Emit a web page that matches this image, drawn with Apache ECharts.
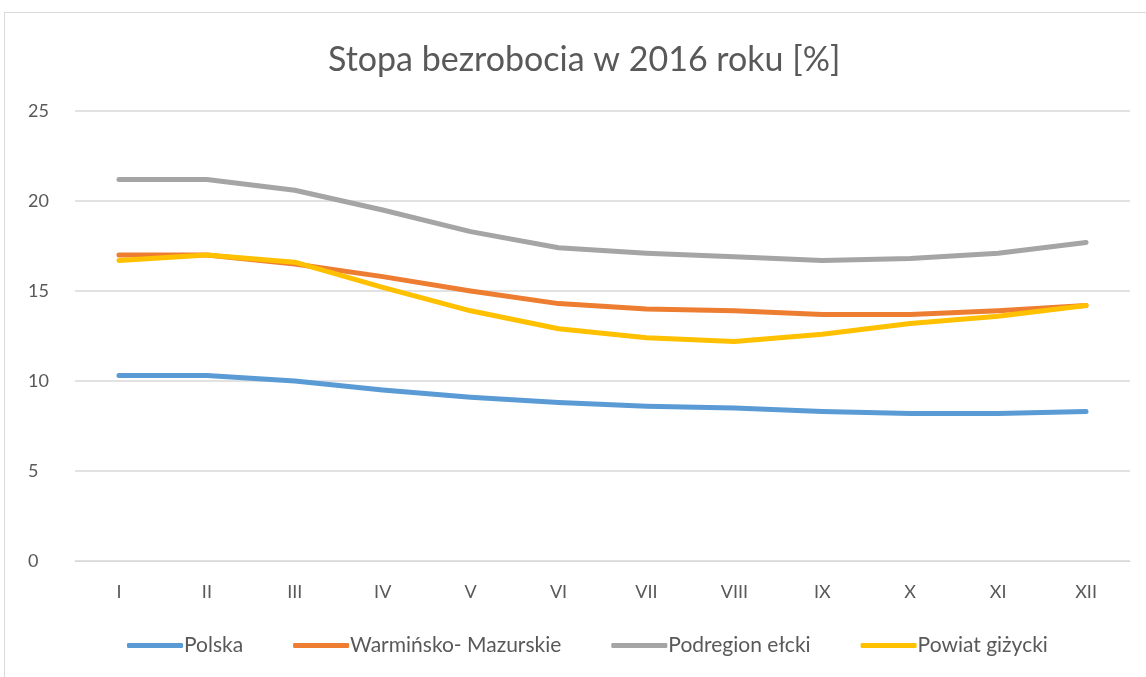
<!DOCTYPE html>
<html>
<head>
<meta charset="utf-8">
<script src="https://cdn.jsdelivr.net/npm/echarts@6/dist/echarts.min.js"></script>
<style>
  html, body { margin: 0; padding: 0; background: #fff; }
  #frame {
    position: absolute; left: 4px; top: 12px; width: 1150px; height: 680px;
    border: 1px solid #d9d9d9; box-sizing: border-box;
  }
  #chart { position: absolute; left: 0; top: 0; width: 1146px; height: 677px; }
</style>
</head>
<body>
<div id="frame"></div>
<div id="chart"></div>
<script>
// miesiące
const months = ['I', 'II', 'III', 'IV', 'V', 'VI', 'VII', 'VIII', 'IX', 'X', 'XI', 'XII']

// stopa bezrobocia [%]
const polska = [10.3, 10.3, 10.0, 9.5, 9.1, 8.8, 8.6, 8.5, 8.3, 8.2, 8.2, 8.3]
const warminskoMazurskie = [17.0, 17.0, 16.5, 15.8, 15.0, 14.3, 14.0, 13.9, 13.7, 13.7, 13.9, 14.2]
const podregionElcki = [21.2, 21.2, 20.6, 19.5, 18.3, 17.4, 17.1, 16.9, 16.7, 16.8, 17.1, 17.7]
const powiatGizycki = [16.7, 17.0, 16.6, 15.2, 13.9, 12.9, 12.4, 12.2, 12.6, 13.2, 13.6, 14.2]

const font = 'Lato, "Noto Sans", sans-serif'

const makeSeries = (name, data, color) => ({
  name: name,
  type: 'line',
  data: data,
  symbol: 'none',
  smooth: false,
  lineStyle: { width: 5, color: color, cap: 'round', join: 'round' },
  itemStyle: { color: color }
})

const chart = echarts.init(document.getElementById('chart'))

const option = {
  animation: false,
  title: {
    text: 'Stopa bezrobocia w 2016 roku [%]',
    left: 323,
    top: 38,
    textStyle: { fontFamily: font, fontSize: 34, fontWeight: 'normal', color: '#595959' }
  },
  legend: {
    bottom: 16,
    left: 122,
    itemWidth: 56,
    itemHeight: 5,
    itemGap: 50,
    icon: 'roundRect',
    textStyle: { fontFamily: font, fontSize: 21, color: '#595959', padding: [0, 0, 0, -4] },
    data: ['Polska', 'Warmińsko- Mazurskie', 'Podregion ełcki', 'Powiat giżycki']
  },
  grid: { left: 75, right: 16, top: 111, bottom: 116, containLabel: false },
  xAxis: {
    type: 'category',
    data: months,
    boundaryGap: true,
    axisLine: { lineStyle: { color: '#d9d9d9', width: 1 } },
    axisTick: { show: false },
    axisLabel: { fontFamily: font, fontSize: 18, color: '#595959', margin: 22 }
  },
  yAxis: {
    type: 'value',
    min: 0,
    max: 25,
    interval: 5,
    axisLine: { show: false },
    axisTick: { show: false },
    splitLine: { lineStyle: { color: '#d9d9d9', width: 1.5 } },
    axisLabel: { fontFamily: font, fontSize: 18, color: '#595959', margin: 47, align: 'left' }
  },
  series: [
    makeSeries('Polska', polska, '#5b9bd5'),
    makeSeries('Warmińsko- Mazurskie', warminskoMazurskie, '#ed7d31'),
    makeSeries('Podregion ełcki', podregionElcki, '#a5a5a5'),
    makeSeries('Powiat giżycki', powiatGizycki, '#ffc000')
  ]
}

chart.setOption(option)
</script>
</body>
</html>
